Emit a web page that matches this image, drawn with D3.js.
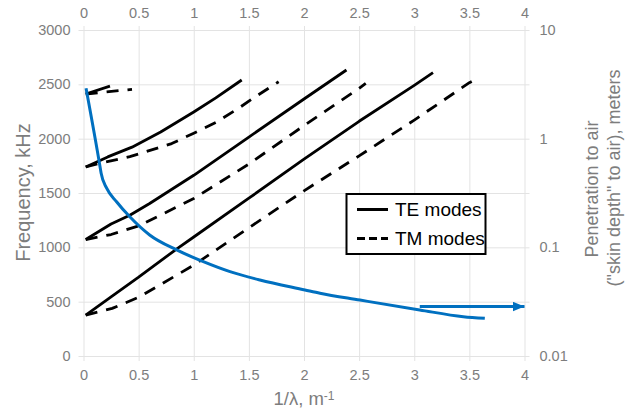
<!DOCTYPE html>
<html>
<head>
<meta charset="utf-8">
<script src="https://cdnjs.cloudflare.com/ajax/libs/d3/7.8.5/d3.min.js"></script>
<style>
  body { margin: 0; background: #fff; }
  svg { display: block; font-family: "Liberation Sans", Arial, sans-serif; }
</style>
</head>
<body>
<div id="chart"></div>
<script>
// TE modes (solid), [1/lambda, kHz]
var te1 = [[0.02,377],[0.25,545],[0.5,725],[0.85,989],[1.0,1095],[1.5,1452],[2.0,1812],[2.5,2160],[3.0,2490],[3.17,2607]];
var te2 = [[0.02,1072],[0.25,1215],[0.42,1296],[0.6,1403],[1.0,1663],[1.5,2015],[2.0,2365],[2.385,2632]];
var te3 = [[0.02,1740],[0.22,1832],[0.44,1922],[0.7,2062],[1.0,2245],[1.2,2375],[1.435,2540]];
var te4 = [[0.02,2411],[0.24,2484]];

// TM modes (dashed)
var tm1 = [[0.02,377],[0.26,438],[0.5,540],[1.0,836],[1.5,1180],[2.0,1520],[2.5,1842],[3.0,2171],[3.5,2515],[3.56,2546]];
var tm2 = [[0.02,1072],[0.25,1118],[0.5,1197],[1.0,1449],[1.5,1767],[2.0,2120],[2.5,2463],[2.56,2509]];
var tm3 = [[0.02,1740],[0.15,1773],[0.42,1834],[0.8,1955],[1.0,2050],[1.2,2150],[1.4,2275],[1.55,2380],[1.77,2524]];
var tm4 = [[0.02,2411],[0.44,2454]];

// penetration to air, meters (right log axis)
var penX = [0.023,0.15,0.16,0.21,0.30,0.42,0.60,0.845,1.087,1.329,1.60,2.009,2.145,2.508,3.05,3.445,3.64];
var penDepth = [2.91,0.552,0.48,0.35,0.263,0.191,0.130,0.0947,0.0738,0.0597,0.050,0.0405,0.0378,0.0327,0.0265,0.023,0.0222];
var arrowX = [3.05, 4.0];
var arrowDepth = 0.0285;

var xTicks = [0,0.5,1,1.5,2,2.5,3,3.5,4];
var yTicks = [0,500,1000,1500,2000,2500,3000];
var yRTicks = [0.01,0.1,1,10];

var W = 643, H = 416;
var mLeft = 83.5, mRight = 524.5, mTop = 30, mBottom = 356;
var grey = "#7d7d7d", gridColor = "#e3e3e3", blue = "#0070C0";

var svg = d3.select("#chart").append("svg")
  .attr("width", W)
  .attr("height", H);

var x = d3.scaleLinear().domain([0,4]).range([mLeft, mRight]);
var y = d3.scaleLinear().domain([0,3000]).range([mBottom, mTop]);
var yR = d3.scaleLog().domain([0.01,10]).range([mBottom, mTop]);

function styleAxis(g){
  g.select(".domain").remove();
  g.selectAll(".tick line").attr("stroke", gridColor).attr("stroke-width", 1);
  g.selectAll(".tick text").attr("fill", grey).style("font-size", "14.5px");
}

// vertical grid + bottom labels
svg.append("g")
  .attr("transform", "translate(0," + (mBottom + 5) + ")")
  .call(d3.axisBottom(x).tickValues(xTicks).tickFormat(d3.format("~g"))
    .tickSize(-(mBottom - mTop + 9)).tickPadding(9))
  .call(styleAxis);

// top labels
svg.append("g")
  .attr("transform", "translate(0," + (mTop - 4) + ")")
  .call(d3.axisTop(x).tickValues(xTicks).tickFormat(d3.format("~g"))
    .tickSize(0).tickPadding(8))
  .call(styleAxis);

// horizontal grid + left labels
svg.append("g")
  .attr("transform", "translate(" + (mLeft - 5) + ",0)")
  .call(d3.axisLeft(y).tickValues(yTicks).tickFormat(d3.format("d"))
    .tickSize(-(mRight - mLeft + 10)).tickPadding(8))
  .call(styleAxis);

// right log axis labels
svg.append("g")
  .attr("transform", "translate(" + (mRight + 5) + ",0)")
  .call(d3.axisRight(yR).tickValues(yRTicks).tickFormat(d3.format("~g")).tickSize(0).tickPadding(10))
  .call(styleAxis);

var line = d3.line().x(function(d){ return x(d[0]); }).y(function(d){ return y(d[1]); });

svg.selectAll("path.te")
  .data([te1, te2, te3, te4])
  .enter().append("path")
  .attr("class", "te")
  .attr("d", line)
  .attr("fill", "none")
  .attr("stroke", "#000")
  .attr("stroke-width", 2.8)
  .attr("stroke-linejoin", "round");

svg.selectAll("path.tm")
  .data([tm1, tm2, tm3, tm4])
  .enter().append("path")
  .attr("class", "tm")
  .attr("d", line)
  .attr("fill", "none")
  .attr("stroke", "#000")
  .attr("stroke-width", 2.8)
  .attr("stroke-dasharray", "12,9")
  .attr("stroke-linejoin", "round");

// penetration curve
var penLine = d3.line()
  .x(function(d, i){ return x(penX[i]); })
  .y(function(d){ return yR(d); })
  .curve(d3.curveMonotoneX);

svg.append("path")
  .datum(penDepth)
  .attr("d", penLine)
  .attr("fill", "none")
  .attr("stroke", blue)
  .attr("stroke-width", 3)
  .attr("stroke-linejoin", "round");

// arrow pointing to the right axis
svg.append("defs").append("marker")
  .attr("id", "head")
  .attr("markerUnits", "userSpaceOnUse")
  .attr("markerWidth", 12).attr("markerHeight", 10)
  .attr("refX", 12).attr("refY", 5)
  .attr("orient", "auto")
  .append("path")
  .attr("d", "M0,0L12,5L0,10Z")
  .attr("fill", blue);

svg.append("line")
  .attr("x1", x(arrowX[0])).attr("x2", x(arrowX[1]))
  .attr("y1", yR(arrowDepth)).attr("y2", yR(arrowDepth))
  .attr("stroke", blue)
  .attr("stroke-width", 3)
  .attr("marker-end", "url(#head)");

// legend
var legend = svg.append("g");
legend.append("rect")
  .attr("x", 346.5).attr("y", 194).attr("width", 139).attr("height", 60)
  .attr("fill", "#fff").attr("stroke", "#000").attr("stroke-width", 2);
legend.append("line").attr("x1", 357).attr("x2", 388).attr("y1", 209.5).attr("y2", 209.5)
  .attr("stroke", "#000").attr("stroke-width", 3);
legend.append("line").attr("x1", 357).attr("x2", 388).attr("y1", 238.5).attr("y2", 238.5)
  .attr("stroke", "#000").attr("stroke-width", 3).attr("stroke-dasharray", "8,4");
legend.append("text").attr("x", 395).attr("y", 216).text("TE modes")
  .style("font-size", "19px").attr("fill", "#000");
legend.append("text").attr("x", 395).attr("y", 244.5).text("TM modes")
  .style("font-size", "19px").attr("fill", "#000");

// axis titles
svg.append("text")
  .attr("transform", "translate(30,192.5) rotate(-90)")
  .attr("text-anchor", "middle")
  .attr("fill", grey)
  .style("font-size", "20px")
  .text("Frequency, kHz");

var xt = svg.append("text")
  .attr("x", 304).attr("y", 405)
  .attr("text-anchor", "middle")
  .attr("fill", grey)
  .style("font-size", "18.5px");
xt.append("tspan").text("1/λ, m");
xt.append("tspan").attr("dy", "-0.45em").style("font-size", "12px").text("-1");

svg.append("text")
  .attr("transform", "translate(598,189) rotate(-90)")
  .attr("text-anchor", "middle")
  .attr("fill", grey)
  .style("font-size", "18px")
  .text("Penetration to air");

svg.append("text")
  .attr("transform", "translate(620,178) rotate(-90)")
  .attr("text-anchor", "middle")
  .attr("fill", grey)
  .style("font-size", "18px")
  .text("(\"skin depth\" to air), meters");
</script>
</body>
</html>
